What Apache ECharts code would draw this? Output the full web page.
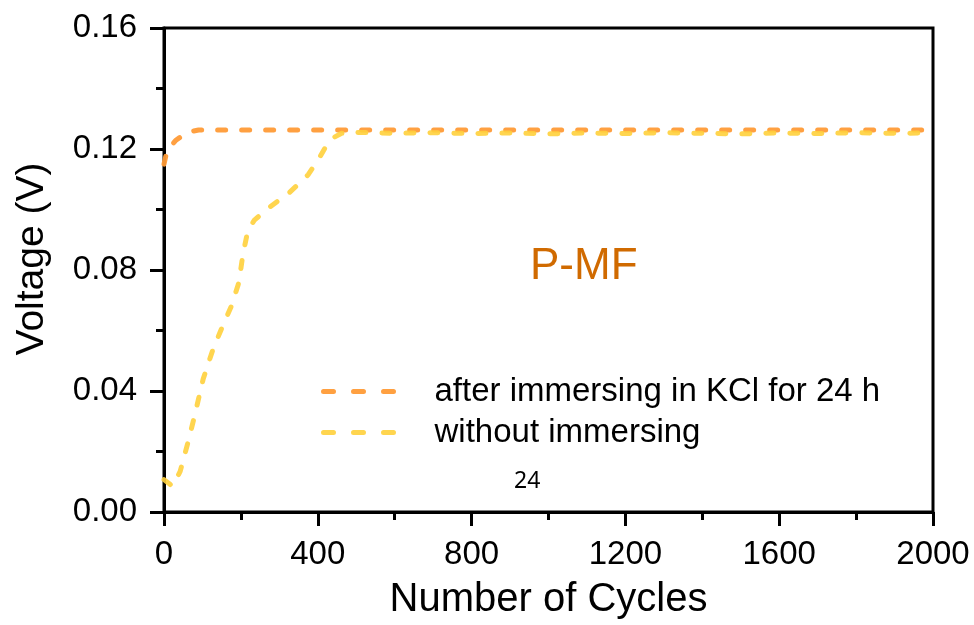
<!DOCTYPE html>
<html>
<head>
<meta charset="utf-8">
<script src="https://cdn.jsdelivr.net/npm/echarts@6/dist/echarts.min.js"></script>
<style>
  html, body { margin: 0; padding: 0; background: #fff; }
  #chart { width: 974px; height: 625px; }
</style>
</head>
<body>
<div id="chart"></div>
<script>
// cycles / voltage
const afterCycles = [0, 8, 30, 60, 90, 200, 400, 600, 800, 1000, 1200, 1400, 1600, 1800, 2000];
const afterVolts = [0.115, 0.1195, 0.1228, 0.1255, 0.1263, 0.1263, 0.1263, 0.1263, 0.1263, 0.1263, 0.1263, 0.1263, 0.1263, 0.1263, 0.1263];

const withoutCycles = [0, 22, 42, 63, 78, 102, 128, 150, 176, 195, 205, 218, 235, 275, 327, 375, 405, 420, 437, 462,
  500, 600, 700, 800, 900, 1000, 1100, 1200, 1300, 1400, 1500, 1600, 1700, 1800, 1900, 2000];
const withoutVolts = [0.0107, 0.0085, 0.0134, 0.0233, 0.031, 0.044, 0.054, 0.0607, 0.0683, 0.076, 0.085, 0.093, 0.0965, 0.1008, 0.1057, 0.1115, 0.1173, 0.1206, 0.1235, 0.1252,
  0.1255, 0.1252, 0.1254, 0.1251, 0.1253, 0.125, 0.1253, 0.1251, 0.1254, 0.1252, 0.125, 0.1253, 0.1251, 0.1254, 0.1252, 0.1253];

const seriesNames = ['after immersing in KCl for 24 h', 'without immersing'];
const seriesColors = ['#FF9B37', '#FFD03C'];

const pairs = (xs, ys) => xs.map((x, i) => [x, ys[i]]);

const chart = echarts.init(document.getElementById('chart'));

const FONT = 'Liberation Sans, Arial';
const DASH = { width: 5, type: [8, 16], cap: 'round', join: 'round' };

const axisCommon = {
  axisLine: { show: true, onZero: false, lineStyle: { color: '#000', width: 3 } },
  axisTick: { show: true, inside: false, length: 14, lineStyle: { color: '#000', width: 3 } },
  minorTick: { show: true, splitNumber: 2, length: 8, lineStyle: { color: '#000', width: 3 } },
  splitLine: { show: false },
};

chart.setOption({
  animation: false,
  grid: {
    left: 164, right: 41, top: 28, bottom: 111,
    show: true, borderColor: '#000', borderWidth: 3,
  },
  xAxis: {
    type: 'value',
    min: 0, max: 2000, interval: 400,
    name: 'Number of Cycles',
    nameLocation: 'middle',
    nameGap: 68,
    nameTextStyle: { fontFamily: FONT, fontSize: 40, color: '#000' },
    axisLabel: { fontFamily: FONT, fontSize: 33, color: '#000', margin: 26, formatter: v => String(v) },
    ...axisCommon,
  },
  yAxis: {
    type: 'value',
    min: 0, max: 0.16, interval: 0.04,
    name: 'Voltage (V)',
    nameLocation: 'middle',
    nameGap: 112,
    nameTextStyle: { fontFamily: FONT, fontSize: 39, color: '#000', padding: [0, 0, 0, 22] },
    axisLabel: {
      fontFamily: FONT, fontSize: 33, color: '#000', margin: 27,
      formatter: v => v.toFixed(2),
    },
    ...axisCommon,
  },
  legend: {
    orient: 'vertical',
    left: 316,
    top: 370,
    itemWidth: 84,
    itemHeight: 14,
    itemGap: 8,
    itemStyle: { opacity: 0 },
    lineStyle: { ...DASH, type: [10, 20] },
    textStyle: { fontFamily: FONT, fontSize: 33, color: '#000', padding: [0, 0, 0, 22] },
    data: seriesNames,
  },
  series: [
    {
      name: seriesNames[0],
      type: 'line',
      data: pairs(afterCycles, afterVolts),
      showSymbol: false,
      symbol: 'none',
      color: seriesColors[0],
      lineStyle: { ...DASH, opacity: 0.95 },
    },
    {
      name: seriesNames[1],
      type: 'line',
      data: pairs(withoutCycles, withoutVolts),
      showSymbol: false,
      symbol: 'none',
      color: seriesColors[1],
      lineStyle: { ...DASH, opacity: 0.9 },
    },
  ],
  graphic: [
    {
      type: 'text', left: 530, top: 245,
      style: { text: 'P-MF', fill: '#D06A00', font: '44px "Liberation Sans", Arial' },
    },
    {
      type: 'text', left: 514, top: 470,
      style: { text: '24', fill: '#000', font: '23px "Noto Sans"' },
    },
  ],
});
</script>
</body>
</html>
